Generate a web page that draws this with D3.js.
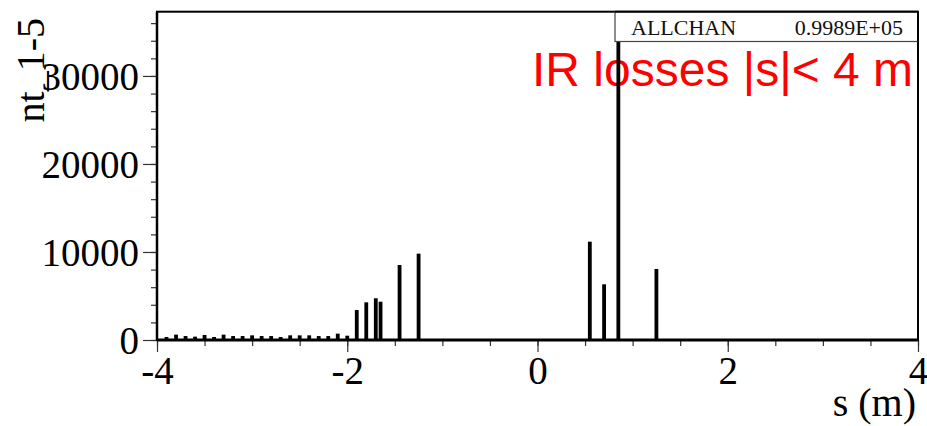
<!DOCTYPE html>
<html>
<head>
<meta charset="utf-8">
<script src="https://cdn.jsdelivr.net/npm/d3@7"></script>
<style>
  html, body { margin: 0; padding: 0; background: #fff; }
  svg { display: block; }
</style>
</head>
<body>
<div id="chart"></div>
<script>
// ---- data ----
const binCenters = [-3.9, -3.8, -3.7, -3.6, -3.5, -3.4, -3.3, -3.2, -3.1, -3.0,
                    -2.9, -2.8, -2.7, -2.6, -2.5, -2.4, -2.3, -2.2, -2.1, -2.0,
                    -1.9, -1.8, -1.7, -1.65, -1.45, -1.25,
                    0.55, 0.7, 0.85, 1.25];
const counts = [340, 610, 450, 380, 570, 340, 610, 450, 450, 530,
                450, 450, 340, 530, 530, 530, 450, 450, 720, 490,
                3410, 4280, 4740, 4350, 8520, 9810,
                11170, 6330, 35500, 8070];
const binWidth = 0.04;
const xDomain = [-4, 4];
const yDomain = [0, 37300];
const xMajorTicks = [-4, -2, 0, 2, 4];
const xMinorTicks = [-4, -3.5, -3, -2.5, -2, -1.5, -1, -0.5, 0, 0.5, 1, 1.5, 2, 2.5, 3, 3.5, 4];
const yMajorTicks = [0, 10000, 20000, 30000];
const yMinorTicks = [0, 2000, 4000, 6000, 8000, 10000, 12000, 14000, 16000, 18000, 20000,
                     22000, 24000, 26000, 28000, 30000, 32000, 34000, 36000];
const yTitle = "nt_1-5";
const xTitle = "s (m)";
const statName = "ALLCHAN";
const statValue = "0.9989E+05";
const annotation = "IR losses |s|< 4 m";

(function () {
// ---- layout ----
const W = 927, H = 426;
const pL = 157, pR = 918, pT = 11.7, pB = 340;
const serif = "'Liberation Serif', 'Times New Roman', serif";
const sans = "'Liberation Sans', Arial, Helvetica, sans-serif";

const svg = d3.select("#chart").append("svg")
  .attr("width", W).attr("height", H)
  .style("background", "#fff");

const x = d3.scaleLinear().domain(xDomain).range([pL, pR]);
const y = d3.scaleLinear().domain(yDomain).range([pB, pT]);

// y axis: minor ticks
svg.append("g")
  .attr("transform", `translate(${pL},0)`)
  .call(d3.axisLeft(y).tickValues(yMinorTicks).tickSize(6).tickFormat(""))
  .call(g => g.select(".domain").remove())
  .call(g => g.selectAll("line").attr("stroke", "#333").attr("stroke-width", 1.2));

// y axis: major ticks with labels
svg.append("g")
  .attr("transform", `translate(${pL},0)`)
  .call(d3.axisLeft(y).tickValues(yMajorTicks).tickSize(14).tickPadding(4).tickFormat(d3.format("d")))
  .call(g => g.select(".domain").remove())
  .call(g => g.selectAll("line").attr("stroke", "#333").attr("stroke-width", 1.2))
  .call(g => g.selectAll("text")
      .attr("font-family", serif).attr("font-size", 39).attr("fill", "#000")
      .attr("dy", "0.34em"));

// x axis: minor ticks
svg.append("g")
  .attr("transform", `translate(0,${pB})`)
  .call(d3.axisBottom(x).tickValues(xMinorTicks).tickSize(6).tickFormat(""))
  .call(g => g.select(".domain").remove())
  .call(g => g.selectAll("line").attr("stroke", "#333").attr("stroke-width", 1.2));

// x axis: major ticks with labels
svg.append("g")
  .attr("transform", `translate(0,${pB})`)
  .call(d3.axisBottom(x).tickValues(xMajorTicks).tickSize(12).tickPadding(4).tickFormat(d => String(d)))
  .call(g => g.select(".domain").remove())
  .call(g => g.selectAll("line").attr("stroke", "#333").attr("stroke-width", 1.2))
  .call(g => g.selectAll("text")
      .attr("font-family", serif).attr("font-size", 39).attr("fill", "#000")
      .attr("dy", "0.71em"));

// annotation text (drawn under the bars)
svg.append("text")
  .attr("x", 532).attr("y", 86)
  .attr("font-family", sans).attr("font-size", 48)
  .attr("fill", "#ff0000")
  .text(annotation);

// bars
const bins = binCenters.map((s, i) => ({ s, v: counts[i] }));
const bw = x(binWidth) - x(0);
svg.append("g").selectAll("rect")
  .data(bins).join("rect")
  .attr("x", d => x(d.s) - bw / 2)
  .attr("y", d => y(d.v))
  .attr("width", bw)
  .attr("height", d => y(0) - y(d.v))
  .attr("fill", "#000");

// frame
svg.append("rect")
  .attr("x", pL).attr("y", pT)
  .attr("width", pR - pL).attr("height", pB - pT)
  .attr("fill", "none").attr("stroke", "#000").attr("stroke-width", 2);
svg.append("line")
  .attr("x1", pL).attr("x2", pR).attr("y1", pB).attr("y2", pB)
  .attr("stroke", "#000").attr("stroke-width", 3);
svg.append("line")
  .attr("x1", pL).attr("x2", pL).attr("y1", pT).attr("y2", pB)
  .attr("stroke", "#000").attr("stroke-width", 2.5);

// stats box
const boxL = 615, boxB = 41.5;
svg.append("rect")
  .attr("x", boxL).attr("y", pT)
  .attr("width", pR - boxL).attr("height", boxB - pT)
  .attr("fill", "#fff").attr("stroke", "#444").attr("stroke-width", 1.2);
svg.append("text")
  .attr("x", 631).attr("y", 34.5)
  .attr("font-family", serif).attr("font-size", 22).attr("fill", "#111")
  .text(statName);
svg.append("text")
  .attr("x", 903).attr("y", 34.5).attr("text-anchor", "end")
  .attr("font-family", serif).attr("font-size", 22).attr("fill", "#111")
  .text(statValue);
// outer frame edge over box
svg.append("line")
  .attr("x1", boxL).attr("x2", pR).attr("y1", pT).attr("y2", pT)
  .attr("stroke", "#000").attr("stroke-width", 2);
svg.append("line")
  .attr("x1", pR).attr("x2", pR).attr("y1", pT).attr("y2", boxB)
  .attr("stroke", "#000").attr("stroke-width", 2);

// axis titles
svg.append("text")
  .attr("transform", "translate(44,18) rotate(-90)")
  .attr("text-anchor", "end")
  .attr("font-family", serif).attr("font-size", 40).attr("fill", "#000")
  .text(yTitle);
svg.append("text")
  .attr("x", 916).attr("y", 416).attr("text-anchor", "end")
  .attr("font-family", serif).attr("font-size", 40).attr("fill", "#000")
  .text(xTitle);
})();
</script>
</body>
</html>
